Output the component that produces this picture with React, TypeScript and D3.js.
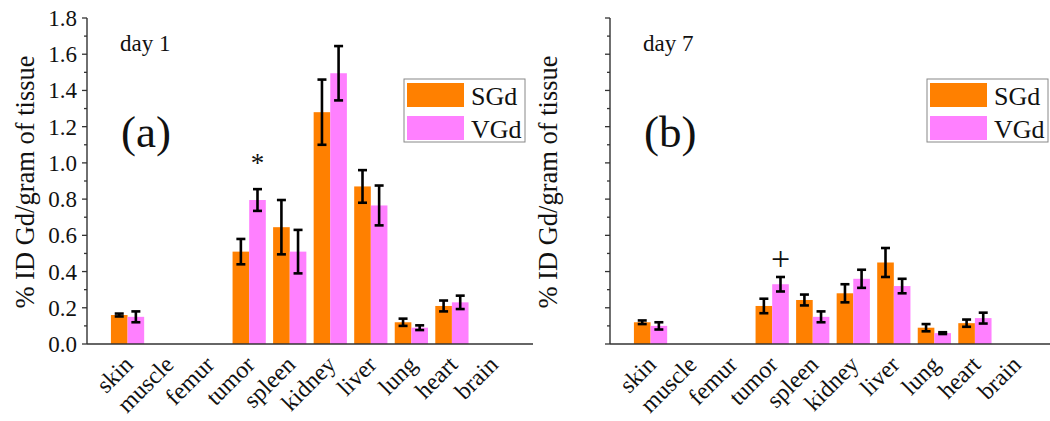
import React from 'react';
import * as d3 from 'd3';

const organs = ['skin', 'muscle', 'femur', 'tumor', 'spleen', 'kidney', 'liver', 'lung', 'heart', 'brain'];
const series = ['SGd', 'VGd'];
const colors = ['#ff8000', '#ff80ff'];

// day 1 (null = not measured)
const day1SGd = [0.16, null, null, 0.51, 0.645, 1.28, 0.87, 0.12, 0.21, null];
const day1SGdErr = [0.008, null, null, 0.07, 0.15, 0.18, 0.09, 0.02, 0.03, null];
const day1VGd = [0.15, null, null, 0.795, 0.51, 1.495, 0.765, 0.09, 0.23, null];
const day1VGdErr = [0.03, null, null, 0.06, 0.12, 0.15, 0.11, 0.013, 0.037, null];

// day 7
const day7SGd = [0.12, null, null, 0.21, 0.243, 0.28, 0.45, 0.09, 0.115, null];
const day7SGdErr = [0.01, null, null, 0.04, 0.03, 0.05, 0.08, 0.02, 0.02, null];
const day7VGd = [0.1, null, null, 0.33, 0.15, 0.36, 0.32, 0.06, 0.143, null];
const day7VGdErr = [0.02, null, null, 0.04, 0.03, 0.05, 0.04, 0.005, 0.03, null];

const yTicks = [0, 0.2, 0.4, 0.6, 0.8, 1.0, 1.2, 1.4, 1.6, 1.8];

const font = '"Liberation Serif", "Times New Roman", serif';

type PanelProps = {
  dx: number;
  day: string;
  tag: string;
  vals: (number | null)[][];
  errs: (number | null)[][];
  tickLabels: boolean;
  mark: string;
  markSize: number;
  markIdx: number;
  markY: number;
};

function Panel({ dx, day, tag, vals, errs, tickLabels, mark, markSize, markIdx, markY }: PanelProps) {
  const x = d3.scaleLinear().domain([0, organs.length + 1]).range([87 + dx, 533 + dx]);
  const y = d3.scaleLinear().domain([0, 1.8]).range([344, 18]);
  const step = x(1) - x(0);
  const inner = d3.scaleBand().domain(series).range([-step * 0.41, step * 0.41]);
  const x0 = x.range()[0];
  const minor = d3.range(0, 1.8001, 0.1);

  return (
    <g>
      {series.map((s, si) =>
        organs.map((o, i) => {
          const v = vals[si][i];
          if (v == null) return null;
          return (
            <rect key={s + o} x={x(i + 1) + inner(s)!} y={y(v)} width={inner.bandwidth()} height={y(0) - y(v)} fill={colors[si]} />
          );
        })
      )}
      {series.map((s, si) =>
        organs.map((o, i) => {
          const v = vals[si][i];
          const e = errs[si][i];
          if (v == null || e == null) return null;
          const cx = x(i + 1) + inner(s)! + inner.bandwidth() / 2;
          return (
            <g key={'e' + s + o} stroke="#000" strokeWidth={2.6}>
              <line x1={cx} x2={cx} y1={y(v + e)} y2={y(v - e)} />
              <line x1={cx - 4.5} x2={cx + 4.5} y1={y(v + e)} y2={y(v + e)} />
              <line x1={cx - 4.5} x2={cx + 4.5} y1={y(v - e)} y2={y(v - e)} />
            </g>
          );
        })
      )}
      <line x1={x0} x2={x.range()[1]} y1={y(0)} y2={y(0)} stroke="#333" strokeWidth={1.4} />
      <line x1={x0} x2={x0} y1={y(0)} y2={y(1.8)} stroke="#333" strokeWidth={1.4} />
      {minor.map((t, i) => (
        <line key={'m' + i} x1={x0} x2={x0 - (i % 2 === 0 ? 5 : 3)} y1={y(t)} y2={y(t)} stroke="#333" strokeWidth={1.3} />
      ))}
      {tickLabels &&
        yTicks.map((t) => (
          <text key={'t' + t} x={x0 - 10} y={y(t)} dy="0.35em" textAnchor="end" fontSize={23} fontFamily={font} fill="#111">
            {d3.format('.1f')(t)}
          </text>
        ))}
      {organs.map((o, i) => (
        <text key={'l' + o} transform={`translate(${x(i + 1) + 7},${366}) rotate(-45)`} textAnchor="end" fontSize={24} fontFamily={font} fill="#111">
          {o}
        </text>
      ))}
      <text transform={`translate(${34 + dx},${182}) rotate(-90)`} textAnchor="middle" fontSize={26.5} fontFamily={font} fill="#111">
        % ID Gd/gram of tissue
      </text>
      <text x={120 + dx} y={51} fontSize={23} fontFamily={font} fill="#111">{day}</text>
      <text x={121 + dx} y={147} fontSize={45} fontFamily={font} fill="#111">{tag}</text>
      <text x={x(markIdx + 1) + inner('VGd')! + inner.bandwidth() / 2} y={markY} textAnchor="middle" fontSize={markSize} fontFamily={font} fill="#111">
        {mark}
      </text>
      <rect x={404 + dx} y={79} width={121} height={63} fill="#fff" stroke="#888" strokeWidth={1} />
      {series.map((s, si) => (
        <g key={'lg' + s}>
          <rect x={407 + dx} y={83 + si * 33} width={57} height={24} fill={colors[si]} />
          <text x={471 + dx} y={105 + si * 33} fontSize={26} fontFamily={font} fill="#111">{s}</text>
        </g>
      ))}
    </g>
  );
}

export default function App() {
  return (
    <svg width={1050} height={421} style={{ position: 'absolute', left: 0, top: 0, background: '#fff' }}>
      <Panel dx={0} day="day 1" tag="(a)" vals={[day1SGd, day1VGd]} errs={[day1SGdErr, day1VGdErr]} tickLabels mark="*" markSize={27} markIdx={3} markY={172} />
      <Panel dx={523} day="day 7" tag="(b)" vals={[day7SGd, day7VGd]} errs={[day7SGdErr, day7VGdErr]} tickLabels={false} mark="+" markSize={34} markIdx={3} markY={270} />
    </svg>
  );
}
